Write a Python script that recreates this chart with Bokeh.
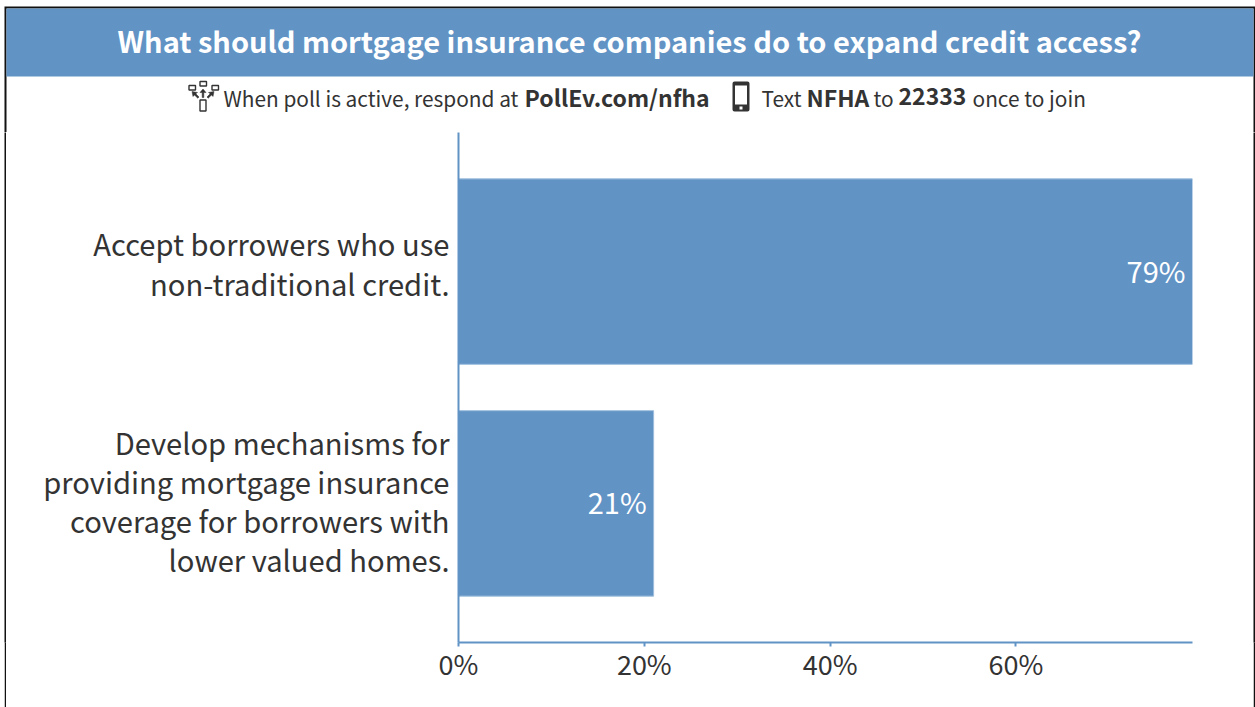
from bokeh.plotting import figure
from bokeh.layouts import column, row
from bokeh.models import Range1d, ColumnDataSource, FixedTicker
from bokeh.core.properties import value
from bokeh.embed import file_html
from bokeh.resources import INLINE

# Poll results
answers = [
    "Accept borrowers who use\nnon-traditional credit.",
    "Develop mechanisms for\nproviding mortgage insurance\ncoverage for borrowers with\nlower valued homes.",
]
shares = [79, 21]
value_labels = ["79%", "21%"]
answer_rows = [1, 0]
# Answer labels sit a little above the middle of their bars
answer_label_rows = [1.037, 0.013]
x_ticks = [0, 20, 40, 60]
x_tick_labels = ["0%", "20%", "40%", "60%"]
title_text = "What should mortgage insurance companies do to expand credit access?"

BLUE = "#6193C5"
INK = "#333333"
EDGE = "#111111"
FONT = "Noto Sans CJK JP"

W, H = 1255, 707
HEAD_H = 132
SIDE_L, SIDE_R = 6, 2
CHART_W = W - SIDE_L - SIDE_R
CHART_H = H - HEAD_H
AXIS_BAND = 65

# Header: slide edge, title band, instruction line and its two icons,
# addressed in pixels from the top-left corner of the page
head = figure(width=W, height=HEAD_H, output_backend="svg", toolbar_location=None,
              x_range=Range1d(0, W), y_range=Range1d(HEAD_H, 0),
              min_border=0, min_border_left=0, min_border_right=0,
              min_border_top=0, min_border_bottom=0)
head.axis.visible = False
head.grid.visible = False
head.outline_line_color = None
head.quad(left=4, right=1255, top=6, bottom=132, fill_color=EDGE, line_color=None)
head.quad(left=6, right=1253, top=8, bottom=132, fill_color="white", line_color=None)
head.quad(left=6, right=1253, top=8, bottom=76, fill_color=BLUE, line_color=None)


def write(x, y, s, size, color=INK, bold=False, align="left"):
    head.text(x=[x], y=[y], text=[s], text_font=value(FONT), text_font_size=size,
              text_color=color, text_font_style="bold" if bold else "normal",
              text_align=align, text_baseline="alphabetic")


write(629, 39, title_text, "29px", "white", True, "center")
plain_y, bold_y = 97.3, 96.2
write(223, plain_y, "When poll is active, respond at", "20.85px")
write(524, bold_y, "PollEv.com/nfha", "23px", bold=True)
write(761, plain_y, "Text", "20.85px")
write(806, bold_y, "NFHA", "23px", bold=True)
write(873, plain_y, "to", "20.85px")
write(898, bold_y, "22333", "23px", bold=True)
write(972, plain_y, "once to join", "20.85px")

# Poll icon: three screens, three arrows and a handset
head.quad(left=[188.5, 199.5, 211.5, 199.5], right=[195, 206, 218, 205.5],
          top=[85, 81, 85, 99.5], bottom=[89.5, 85.5, 89.5, 110.5],
          fill_color=None, line_color=INK, line_width=1.4)
head.patches(xs=[[202.5, 199.5, 201.7, 201.7, 203.3, 203.3, 205.5],
                 [191.5, 197, 195.3, 198.5, 197.3, 194, 192.5],
                 [213.5, 208, 209.7, 206.5, 207.7, 211, 212.5]],
             ys=[[88.5, 92, 92, 97, 97, 92, 92],
                 [91, 92, 93.3, 96.5, 97.7, 94.5, 96],
                 [91, 92, 93.3, 96.5, 97.7, 94.5, 96]],
             fill_color=INK, line_color=INK, line_width=0.5)

# Handset icon
head.quad(left=734, right=747, top=83, bottom=109, fill_color=INK, line_color=INK,
          line_width=4, line_join="round")
head.quad(left=734.5, right=746.5, top=85, bottom=104, fill_color="white", line_color=None)
head.quad(left=739, right=742, top=106, bottom=109, fill_color="white", line_color=None)

# Chart: the frame runs from the zero line to the 79% mark
p = figure(
    width=CHART_W, height=CHART_H, output_backend="svg", toolbar_location=None,
    x_range=Range1d(0, 79), y_range=Range1d(-0.6, 1.6),
    min_border_left=458 - SIDE_L, min_border_right=1253 - 1192,
    min_border_top=0, min_border_bottom=AXIS_BAND,
)
p.outline_line_color = None
p.grid.visible = False

src = ColumnDataSource(dict(row=answer_rows, share=shares, label=value_labels))
p.hbar(y="row", left=0, right="share", height=0.8, source=src,
       fill_color=BLUE, line_color="#9DBEDD", line_width=1)
p.text(x="share", y="row", text="label", source=src, x_offset=-7, y_offset=-2,
       text_align="right", text_baseline="middle", text_color="white",
       text_font=value(FONT), text_font_size="29px")

xa = p.xaxis[0]
xa.ticker = FixedTicker(ticks=x_ticks)
xa.major_label_overrides = dict(zip(x_ticks, x_tick_labels))
xa.axis_line_color = BLUE
xa.axis_line_width = 2
xa.major_tick_line_color = BLUE
xa.major_tick_line_width = 2
xa.major_tick_in = 0
xa.major_tick_out = 4
xa.minor_tick_line_color = None
xa.major_label_standoff = -3
xa.major_label_text_font = FONT
xa.major_label_text_font_size = "27px"
xa.major_label_text_color = INK

ya = p.yaxis[0]
ya.ticker = FixedTicker(ticks=answer_label_rows)
ya.major_label_overrides = dict(zip(answer_label_rows, answers))
ya.axis_line_color = BLUE
ya.axis_line_width = 2
ya.major_tick_line_color = None
ya.minor_tick_line_color = None
ya.major_label_standoff = 3
ya.major_label_text_font = FONT
ya.major_label_text_font_size = "29.15px"
ya.major_label_text_color = INK
ya.major_label_text_line_height = 0.93


def edge(width, margin):
    """A solid strip for the slide's side edges, with the chart's axis band below its frame."""
    f = figure(width=width, height=CHART_H, output_backend="svg", toolbar_location=None,
               x_range=Range1d(0, 1), y_range=Range1d(0, 1),
               min_border=0, min_border_left=0, min_border_right=0,
               min_border_top=0, min_border_bottom=AXIS_BAND, margin=margin)
    f.axis.visible = False
    f.grid.visible = False
    f.outline_line_color = None
    f.background_fill_color = EDGE
    f.border_fill_color = EDGE
    return f


left_edge = edge(2, (0, 0, 0, SIDE_L - 2))
right_edge = edge(SIDE_R, (0, 0, 0, 0))

page = column(head, row(left_edge, p, right_edge, spacing=0), spacing=0)
open("out.html", "w").write(file_html(page, INLINE))
